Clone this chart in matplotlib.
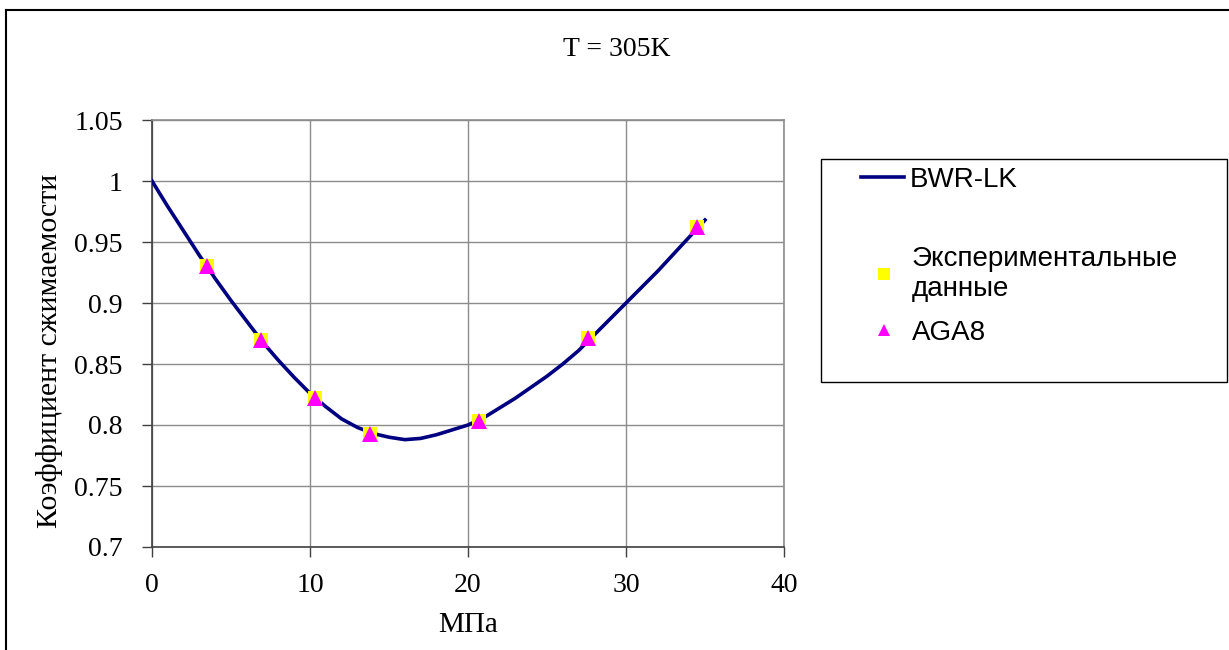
import matplotlib
matplotlib.use('Agg')
import matplotlib.pyplot as plt
from matplotlib.lines import Line2D
from matplotlib.patches import Rectangle

# расчёт BWR-LK, МПа -> Z
bwr_p = [0, 1, 2, 3, 4, 5, 6, 7, 8, 9, 10, 11, 12, 13, 14, 15, 16, 17,
         18, 19, 20, 21, 22, 23, 24, 25, 26, 27, 28, 29, 30, 31, 32, 33, 34, 35]
bwr_z = [1.000, 0.979, 0.959, 0.939, 0.920, 0.902, 0.885, 0.868, 0.853,
         0.839, 0.826, 0.815, 0.805, 0.798, 0.793, 0.790, 0.788, 0.789,
         0.792, 0.796, 0.800, 0.806, 0.814, 0.822, 0.831, 0.840, 0.850,
         0.861, 0.874, 0.887, 0.900, 0.913, 0.926, 0.940, 0.954, 0.968]

# эксперимент и AGA8
exp_p = [3.45, 6.89, 10.34, 13.79, 20.68, 27.58, 34.47]
exp_z = [0.930, 0.870, 0.822, 0.793, 0.803, 0.871, 0.962]
aga_p = [3.45, 6.89, 10.34, 13.79, 20.68, 27.58, 34.47]
aga_z = [0.930, 0.870, 0.822, 0.793, 0.803, 0.871, 0.962]

SERIF = 'Liberation Serif'
SANS = 'Liberation Sans'

fig = plt.figure(figsize=(12.29, 6.5), dpi=100)
ax = fig.add_axes([152 / 1229, 1 - 547 / 650, 632 / 1229, 427 / 650])

ax.plot(bwr_p, bwr_z, color='#000080', linewidth=2.6, zorder=3,
        solid_joinstyle='round')
ax.plot(exp_p, exp_z, linestyle='', marker='s', markersize=10,
        color='#ffff00', markeredgewidth=0, zorder=4)
ax.plot(aga_p, aga_z, linestyle='', marker='^', markersize=11,
        color='#ff00ff', markeredgewidth=0, zorder=5)

ax.set_xlim(0, 40)
ax.set_ylim(0.7, 1.05)
ax.set_xticks([0, 10, 20, 30, 40])
ax.set_yticks([0.7, 0.75, 0.8, 0.85, 0.9, 0.95, 1.0, 1.05])
ax.set_yticklabels(['0.7', '0.75', '0.8', '0.85', '0.9', '0.95', '1', '1.05'])
ax.grid(True, color='#8c8c8c', linewidth=1.0)
ax.set_axisbelow(True)
for s in ax.spines.values():
    s.set_color('#8c8c8c')
    s.set_linewidth(1.2)
ax.spines['left'].set_color('#404040')
ax.spines['bottom'].set_color('#404040')
ax.tick_params(direction='out', length=7, width=1, color='#404040',
               labelsize=20)
ax.tick_params(axis='y', pad=14)
ax.tick_params(axis='x', pad=12)
for lab in ax.get_xticklabels() + ax.get_yticklabels():
    lab.set_family(SERIF)

ax.set_xlabel('МПа', family=SERIF, fontsize=21, labelpad=10)
ax.set_ylabel('Коэффициент сжимаемости', family=SERIF, fontsize=21.5)
ax.yaxis.set_label_coords(-0.141, 0.46)
fig.text(617 / 1229, 1 - 50 / 650, 'T = 305K', family=SERIF, fontsize=20,
         ha='center', va='center')

# рамка легенды
fig.add_artist(Rectangle((821 / 1229, 1 - 382 / 650), 406 / 1229, 223 / 650,
                         transform=fig.transFigure, fill=False,
                         edgecolor='black', linewidth=1))
leg_font = {'family': SANS, 'size': 20}
h_line = Line2D([], [], color='#000080', linewidth=2.6)
leg1 = fig.legend([h_line], ['BWR-LK'], loc='center left',
                  bbox_to_anchor=(861 / 1229, 1 - 180 / 650), frameon=False,
                  prop=leg_font, handlelength=1.55, handletextpad=0.2,
                  borderpad=0, borderaxespad=0)
h_sq = Line2D([], [], linestyle='', marker='s', markersize=8,
              color='#ffff00', markeredgewidth=0)
h_tr = Line2D([], [], linestyle='', marker='^', markersize=9,
              color='#ff00ff', markeredgewidth=0)
leg2 = fig.legend([h_sq, h_tr], ['Экспериментальные\nданные', 'AGA8'],
                  loc='upper left', bbox_to_anchor=(873 / 1229, 1 - 246 / 650),
                  frameon=False, prop=leg_font, handlelength=0.8,
                  handletextpad=0.6, labelspacing=0.65, borderpad=0,
                  borderaxespad=0)

# внешняя рамка области диаграммы
fig.add_artist(Line2D([6 / 1229, 6 / 1229], [0, 1 - 10 / 650],
                      transform=fig.transFigure, color='black', linewidth=1.5))
fig.add_artist(Line2D([6 / 1229, 1], [1 - 10 / 650, 1 - 10 / 650],
                      transform=fig.transFigure, color='black', linewidth=1.5))

fig.savefig('out.png', dpi=100)
